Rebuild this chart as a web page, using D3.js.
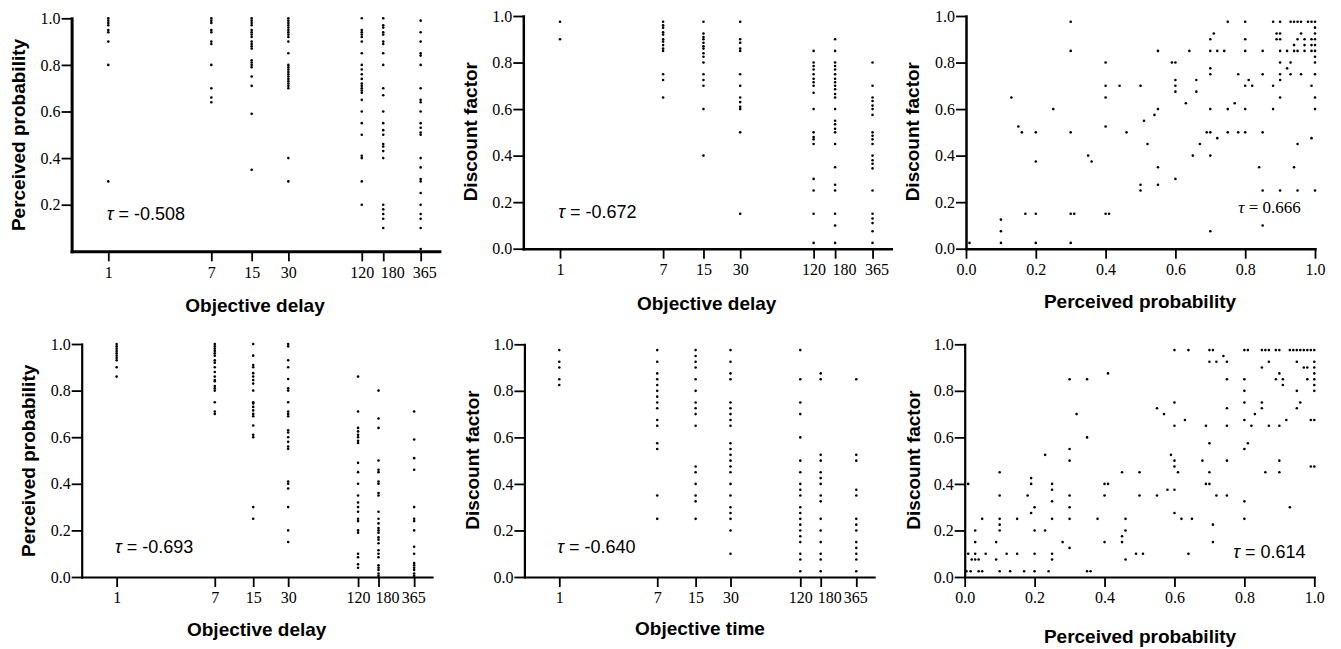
<!DOCTYPE html>
<html>
<head>
<meta charset="utf-8">
<script src="https://cdn.jsdelivr.net/npm/d3@7"></script>
<style>
  body { margin: 0; background: #fff; }
  svg { display: block; }
  .tk { font-family: "Liberation Serif", "Times New Roman", Times, serif; }
</style>
</head>
<body>
<div id="chart"></div>
<script>
// 6 panel figure: delay / probability / discount factor
var delays = [1, 7, 15, 30, 120, 180, 365];
var unitTicks = [0, 0.2, 0.4, 0.6, 0.8, 1.0];

// top-left: perceived probability per delay column
var p1Prob = [
  [1.0, 0.99, 0.98, 0.97, 0.95, 0.94, 0.9, 0.8, 0.3],
  [1.0, 0.99, 0.98, 0.95, 0.94, 0.9, 0.89, 0.8, 0.7, 0.66, 0.64],
  [1.0, 0.99, 0.98, 0.97, 0.95, 0.94, 0.93, 0.92, 0.9, 0.89, 0.88, 0.87, 0.82, 0.81, 0.8, 0.79, 0.75, 0.71, 0.59, 0.35],
  [1.0, 0.99, 0.98, 0.97, 0.96, 0.95, 0.94, 0.93, 0.92, 0.9, 0.85, 0.8, 0.79, 0.78, 0.77, 0.76, 0.75, 0.74, 0.73, 0.72, 0.71, 0.7, 0.4, 0.3],
  [1.0, 0.95, 0.94, 0.93, 0.92, 0.9, 0.85, 0.8, 0.78, 0.76, 0.74, 0.72, 0.71, 0.7, 0.69, 0.68, 0.65, 0.6, 0.55, 0.5, 0.41, 0.4, 0.3, 0.2],
  [1.0, 0.97, 0.96, 0.94, 0.93, 0.9, 0.89, 0.85, 0.8, 0.7, 0.67, 0.6, 0.55, 0.52, 0.5, 0.46, 0.45, 0.43, 0.4, 0.2, 0.18, 0.16, 0.14, 0.1],
  [0.99, 0.94, 0.9, 0.85, 0.84, 0.8, 0.7, 0.65, 0.64, 0.6, 0.55, 0.53, 0.51, 0.5, 0.4, 0.36, 0.31, 0.3, 0.25, 0.2, 0.16, 0.14, 0.1, 0.01]
];

// top-middle: discount factor per delay column
var p2Disc = [
  [0.975, 0.9],
  [0.975, 0.96, 0.95, 0.93, 0.92, 0.9, 0.89, 0.875, 0.86, 0.85, 0.75, 0.725, 0.65],
  [0.975, 0.925, 0.91, 0.9, 0.885, 0.87, 0.86, 0.84, 0.825, 0.8, 0.75, 0.725, 0.7, 0.6, 0.4],
  [0.975, 0.9, 0.885, 0.86, 0.85, 0.75, 0.7, 0.65, 0.63, 0.61, 0.6, 0.5, 0.15],
  [0.85, 0.8, 0.785, 0.77, 0.75, 0.73, 0.715, 0.7, 0.67, 0.6, 0.5, 0.48, 0.47, 0.45, 0.3, 0.25, 0.15, 0.025],
  [0.9, 0.85, 0.8, 0.785, 0.77, 0.75, 0.73, 0.715, 0.7, 0.685, 0.665, 0.65, 0.6, 0.55, 0.535, 0.515, 0.5, 0.45, 0.35, 0.275, 0.25, 0.15, 0.1, 0.025],
  [0.8, 0.7, 0.65, 0.635, 0.615, 0.6, 0.575, 0.5, 0.485, 0.47, 0.45, 0.4, 0.38, 0.365, 0.345, 0.25, 0.15, 0.13, 0.11, 0.075, 0.025]
];

// top-right: [perceived probability, discount factor]
var p3Pairs = [
  [0.01, 0.025], [0.1, 0.025], [0.1, 0.075], [0.1, 0.125], [0.13, 0.65], [0.15, 0.525], [0.16, 0.5],
  [0.17, 0.15], [0.2, 0.5], [0.2, 0.375], [0.2, 0.15], [0.2, 0.025], [0.25, 0.6], [0.3, 0.975],
  [0.3, 0.85], [0.3, 0.5], [0.3, 0.15], [0.31, 0.15], [0.3, 0.025], [0.35, 0.4], [0.36, 0.375],
  [0.4, 0.8], [0.4, 0.7], [0.4, 0.65], [0.4, 0.525], [0.4, 0.15], [0.41, 0.15], [0.44, 0.7],
  [0.46, 0.5], [0.5, 0.7], [0.5, 0.275], [0.5, 0.25], [0.51, 0.55], [0.52, 0.45], [0.54, 0.575],
  [0.55, 0.6], [0.55, 0.85], [0.55, 0.35], [0.55, 0.275], [0.59, 0.8], [0.6, 0.8], [0.6, 0.725],
  [0.6, 0.7], [0.6, 0.675], [0.6, 0.3], [0.63, 0.625], [0.64, 0.85], [0.65, 0.4], [0.66, 0.725],
  [0.66, 0.675], [0.67, 0.45], [0.69, 0.5], [0.7, 0.5], [0.7, 0.9], [0.7, 0.85], [0.7, 0.775],
  [0.7, 0.75], [0.7, 0.6], [0.7, 0.4], [0.7, 0.075], [0.71, 0.925], [0.72, 0.85], [0.72, 0.475],
  [0.74, 0.85], [0.75, 0.975], [0.75, 0.6], [0.75, 0.5], [0.77, 0.625], [0.78, 0.75], [0.78, 0.5],
  [0.8, 0.975], [0.8, 0.9], [0.8, 0.85], [0.8, 0.7], [0.8, 0.6], [0.8, 0.5], [0.81, 0.725],
  [0.82, 0.7], [0.84, 0.35], [0.85, 0.85], [0.85, 0.75], [0.85, 0.5], [0.85, 0.25], [0.85, 0.1],
  [0.88, 0.975], [0.9, 0.975], [0.88, 0.7], [0.88, 0.6], [0.89, 0.925], [0.9, 0.925], [0.89, 0.9],
  [0.9, 0.9], [0.9, 0.85], [0.9, 0.8], [0.9, 0.75], [0.9, 0.725], [0.9, 0.65], [0.9, 0.25],
  [0.92, 0.85], [0.92, 0.775], [0.93, 0.8], [0.93, 0.75], [0.94, 0.875], [0.94, 0.85], [0.94, 0.35],
  [0.93, 0.975], [0.94, 0.975], [0.95, 0.975], [0.96, 0.975], [0.95, 0.9], [0.95, 0.85], [0.95, 0.45],
  [0.95, 0.25], [0.96, 0.925], [0.96, 0.75], [0.97, 0.9], [0.97, 0.875], [0.97, 0.85], [0.98, 0.975],
  [0.99, 0.975], [1.0, 0.975], [0.99, 0.9], [1.0, 0.9], [0.99, 0.875], [1.0, 0.875], [0.99, 0.85],
  [1.0, 0.85], [1.0, 0.95], [1.0, 0.925], [1.0, 0.825], [1.0, 0.8], [0.99, 0.7], [1.0, 0.75],
  [1.0, 0.65], [1.0, 0.6], [0.99, 0.475], [1.0, 0.25]
];

// bottom-left: perceived probability per delay column
var p4Prob = [
  [1.0, 0.99, 0.98, 0.97, 0.96, 0.95, 0.94, 0.93, 0.9, 0.86],
  [1.0, 0.99, 0.98, 0.97, 0.96, 0.95, 0.93, 0.92, 0.9, 0.88, 0.86, 0.845, 0.84, 0.82, 0.81, 0.8, 0.75, 0.71, 0.7],
  [1.0, 0.95, 0.91, 0.9, 0.875, 0.86, 0.845, 0.83, 0.8, 0.75, 0.745, 0.73, 0.715, 0.7, 0.69, 0.65, 0.61, 0.6, 0.3, 0.25],
  [1.0, 0.99, 0.93, 0.9, 0.85, 0.81, 0.8, 0.75, 0.71, 0.7, 0.69, 0.63, 0.62, 0.6, 0.58, 0.56, 0.55, 0.41, 0.4, 0.38, 0.3, 0.2, 0.15],
  [0.86, 0.71, 0.64, 0.625, 0.61, 0.6, 0.585, 0.575, 0.49, 0.45, 0.4, 0.35, 0.32, 0.3, 0.28, 0.25, 0.24, 0.2, 0.19, 0.1, 0.085, 0.055, 0.04],
  [0.8, 0.68, 0.64, 0.5, 0.46, 0.45, 0.41, 0.4, 0.36, 0.35, 0.28, 0.25, 0.23, 0.21, 0.2, 0.19, 0.17, 0.16, 0.145, 0.115, 0.1, 0.085, 0.05, 0.04, 0.03, 0.015, 0.005],
  [0.71, 0.59, 0.51, 0.46, 0.3, 0.25, 0.24, 0.2, 0.13, 0.1, 0.06, 0.05, 0.04, 0.03, 0.015, 0.005]
];

// bottom-middle: discount factor per time column
var p5Disc = [
  [0.975, 0.925, 0.9, 0.85, 0.825],
  [0.975, 0.925, 0.875, 0.85, 0.825, 0.8, 0.775, 0.75, 0.725, 0.675, 0.65, 0.575, 0.55, 0.35, 0.25],
  [0.975, 0.95, 0.925, 0.9, 0.85, 0.8, 0.75, 0.725, 0.7, 0.65, 0.475, 0.45, 0.4, 0.35, 0.325, 0.25],
  [0.975, 0.925, 0.875, 0.85, 0.75, 0.725, 0.7, 0.675, 0.65, 0.575, 0.55, 0.525, 0.5, 0.475, 0.45, 0.4, 0.35, 0.3, 0.275, 0.25, 0.2, 0.1],
  [0.975, 0.85, 0.75, 0.7, 0.6, 0.5, 0.45, 0.4, 0.375, 0.35, 0.3, 0.275, 0.25, 0.225, 0.2, 0.175, 0.15, 0.1, 0.075, 0.025],
  [0.875, 0.85, 0.525, 0.5, 0.45, 0.425, 0.4, 0.35, 0.325, 0.25, 0.2, 0.15, 0.1, 0.075, 0.025],
  [0.85, 0.525, 0.5, 0.375, 0.35, 0.25, 0.225, 0.2, 0.15, 0.125, 0.1, 0.075, 0.025]
];

// bottom-right: [perceived probability, discount factor]
var p6Pairs = [
  [0.005, 0.025], [0.017, 0.025], [0.01, 0.4], [0.01, 0.1], [0.02, 0.075], [0.03, 0.075], [0.04, 0.075],
  [0.03, 0.2], [0.03, 0.15], [0.03, 0.1], [0.04, 0.025], [0.05, 0.025], [0.05, 0.25], [0.06, 0.1],
  [0.09, 0.15], [0.09, 0.075], [0.1, 0.45], [0.1, 0.35], [0.1, 0.25], [0.1, 0.225], [0.1, 0.2],
  [0.1, 0.025], [0.12, 0.1], [0.13, 0.025], [0.15, 0.25], [0.15, 0.1], [0.17, 0.025], [0.18, 0.35],
  [0.19, 0.425], [0.19, 0.4], [0.19, 0.275], [0.2, 0.3], [0.2, 0.2], [0.2, 0.1], [0.2, 0.025],
  [0.23, 0.525], [0.23, 0.2], [0.24, 0.025], [0.25, 0.4], [0.25, 0.375], [0.25, 0.325], [0.25, 0.25],
  [0.25, 0.1], [0.25, 0.075], [0.28, 0.15], [0.3, 0.85], [0.3, 0.55], [0.3, 0.5], [0.3, 0.35],
  [0.3, 0.3], [0.3, 0.25], [0.3, 0.125], [0.32, 0.7], [0.35, 0.85], [0.35, 0.6], [0.35, 0.025],
  [0.36, 0.025], [0.38, 0.25], [0.4, 0.4], [0.41, 0.4], [0.4, 0.35], [0.4, 0.15], [0.41, 0.875],
  [0.45, 0.45], [0.45, 0.175], [0.45, 0.15], [0.46, 0.25], [0.46, 0.2], [0.46, 0.075], [0.49, 0.1],
  [0.51, 0.1], [0.5, 0.45], [0.5, 0.35], [0.55, 0.725], [0.55, 0.35], [0.57, 0.7], [0.58, 0.375],
  [0.59, 0.525], [0.6, 0.975], [0.6, 0.75], [0.6, 0.65], [0.6, 0.5], [0.6, 0.475], [0.6, 0.375],
  [0.6, 0.275], [0.61, 0.45], [0.62, 0.25], [0.63, 0.675], [0.64, 0.975], [0.64, 0.1], [0.65, 0.25],
  [0.68, 0.5], [0.69, 0.65], [0.69, 0.4], [0.7, 0.4], [0.7, 0.975], [0.71, 0.975], [0.7, 0.925],
  [0.7, 0.575], [0.7, 0.45], [0.71, 0.225], [0.71, 0.15], [0.72, 0.925], [0.72, 0.35], [0.74, 0.95],
  [0.75, 0.925], [0.75, 0.85], [0.75, 0.725], [0.75, 0.65], [0.75, 0.5], [0.75, 0.35], [0.8, 0.975],
  [0.81, 0.975], [0.8, 0.85], [0.8, 0.8], [0.8, 0.75], [0.8, 0.675], [0.8, 0.55], [0.8, 0.325],
  [0.8, 0.25], [0.81, 0.575], [0.82, 0.65], [0.83, 0.7], [0.85, 0.975], [0.86, 0.975], [0.87, 0.975],
  [0.85, 0.9], [0.85, 0.75], [0.85, 0.725], [0.86, 0.45], [0.87, 0.925], [0.87, 0.65], [0.89, 0.975],
  [0.9, 0.975], [0.89, 0.85], [0.9, 0.875], [0.9, 0.65], [0.9, 0.5], [0.9, 0.45], [0.91, 0.85],
  [0.91, 0.825], [0.92, 0.675], [0.93, 0.3], [0.93, 0.975], [0.94, 0.975], [0.95, 0.975], [0.96, 0.975],
  [0.97, 0.975], [0.98, 0.975], [0.99, 0.975], [1.0, 0.975], [0.95, 0.925], [0.95, 0.8], [0.95, 0.725],
  [0.96, 0.75], [0.97, 0.9], [0.98, 0.9], [0.98, 0.85], [1.0, 0.925], [1.0, 0.9], [1.0, 0.875],
  [1.0, 0.85], [1.0, 0.825], [1.0, 0.8], [0.99, 0.675], [1.0, 0.675], [0.99, 0.475], [1.0, 0.475]
];

var tauText = ["-0.508", "-0.672", "0.666", "-0.693", "-0.640", "0.614"];
var xTitles = ["Objective delay", "Objective delay", "Perceived probability",
               "Objective delay", "Objective time", "Perceived probability"];
var yTitles = ["Perceived probability", "Discount factor", "Discount factor",
               "Perceived probability", "Discount factor", "Discount factor"];

var width = 1341, height = 649;
var serif = "Liberation Serif, Times New Roman, Times, serif";
var sans = "Liberation Sans, Arial, Helvetica, sans-serif";

// layout of each panel (pixel frame, label spots)
var panels = [
  { kind: "delay", cols: p1Prob, x: [71.6, 439.4], y: [251.3, 18.3], yTicks: unitTicks.slice(1), sw: 3,
    shift: { 180: 9, 365: 3.5 }, xt: [255, 312], yt: [25, 135], tau: [106.7, 220], tauSerif: false },
  { kind: "delay", cols: p2Disc, x: [523.3, 891.3], y: [248.7, 16], yTicks: unitTicks, sw: 2.5,
    shift: { 180: 9, 365: 4 }, xt: [706.7, 310], yt: [476.6, 131.7], tau: [558.3, 218.3], tauSerif: false },
  { kind: "prob", pts: p3Pairs, x: [966, 1315], y: [248.7, 16], yTicks: unitTicks, sw: 2.5,
    xt: [1140, 307.5], yt: [918.6, 131.7], tau: [1238.3, 213.3], tauSerif: true },
  { kind: "delay", cols: p4Prob, x: [81.7, 432], y: [577, 344], yTicks: unitTicks, sw: 2.2,
    shift: { 180: 8.5, 365: -1 }, xt: [256.7, 636], yt: [35.3, 460.8], tau: [115, 552.7], tauSerif: false },
  { kind: "delay", cols: p5Disc, x: [524.4, 874.1], y: [577, 344.3], yTicks: unitTicks, sw: 2.2,
    shift: { 180: 8.5, 365: -1 }, xt: [700, 635], yt: [478.6, 460], tau: [557.3, 552.7], tauSerif: false },
  { kind: "prob", pts: p6Pairs, x: [964.7, 1314.3], y: [577, 344.3], yTicks: unitTicks, sw: 2.2,
    xt: [1140, 642.5], yt: [919.6, 460], tau: [1233.3, 558.3], tauSerif: false }
];

var svg = d3.select("#chart")
  .append("svg")
  .attr("width", width)
  .attr("height", height);

svg.append("rect").attr("width", width).attr("height", height).attr("fill", "#fff");

panels.forEach(function (p, i) {
  var g = svg.append("g");

  var x = p.kind == "delay"
    ? d3.scaleLog().domain([0.5, 520]).range(p.x)
    : d3.scaleLinear().domain([0, 1]).range(p.x);
  var y = d3.scaleLinear().domain([0, 1]).range(p.y);

  // points
  var pts = [];
  if (p.kind == "delay") {
    p.cols.forEach(function (col, c) {
      col.forEach(function (v) { pts.push([delays[c], v]); });
    });
  } else {
    pts = p.pts;
  }
  g.selectAll("circle")
    .data(pts)
    .enter()
    .append("circle")
    .attr("cx", function (d) { return x(d[0]); })
    .attr("cy", function (d) { return y(d[1]); })
    .attr("r", 1.3)
    .attr("fill", "#000");

  // x axis
  var xAxis = d3.axisBottom(x).tickSize(10).tickPadding(5).tickSizeOuter(0);
  if (p.kind == "delay") {
    xAxis.tickValues(delays).tickFormat(function (d) { return String(d); });
  } else {
    xAxis.tickValues(unitTicks).tickFormat(d3.format(".1f"));
  }
  var gx = g.append("g")
    .attr("transform", "translate(0," + p.y[0] + ")")
    .call(xAxis);

  // y axis
  var yAxis = d3.axisLeft(y).tickSize(10).tickPadding(1).tickSizeOuter(0)
    .tickValues(p.yTicks).tickFormat(d3.format(".1f"));
  var gy = g.append("g")
    .attr("transform", "translate(" + p.x[0] + ",0)")
    .call(yAxis);

  [gx, gy].forEach(function (ax) {
    ax.attr("font-family", serif).attr("font-size", 16);
    ax.select(".domain").attr("stroke", "#000").attr("stroke-width", p.sw).attr("stroke-linecap", "square");
    ax.selectAll(".tick line").attr("stroke", "#000").attr("stroke-width", 1.8);
    ax.selectAll(".tick text")
      .attr("class", "tk")
      .attr("fill", "#000");
  });

  if (p.shift) {
    gx.selectAll(".tick text").attr("dx", function (d) { return p.shift[d] || 0; });
  }

  // axis titles
  g.append("text")
    .attr("x", p.xt[0])
    .attr("y", p.xt[1])
    .attr("text-anchor", "middle")
    .attr("font-family", sans)
    .attr("font-weight", "bold")
    .attr("font-size", 19)
    .text(xTitles[i]);

  g.append("text")
    .attr("transform", "translate(" + p.yt[0] + "," + p.yt[1] + ")rotate(-90)")
    .attr("text-anchor", "middle")
    .attr("font-family", sans)
    .attr("font-weight", "bold")
    .attr("font-size", 19)
    .text(yTitles[i]);

  // kendall tau
  var t = g.append("text")
    .attr("x", p.tau[0])
    .attr("y", p.tau[1])
    .attr("class", p.tauSerif ? "tk" : null)
    .attr("font-family", p.tauSerif ? serif : sans)
    .attr("font-size", p.tauSerif ? 17 : 18);
  t.append("tspan").attr("font-style", "italic").text("τ");
  t.append("tspan").text(" = " + tauText[i]);
});
</script>
</body>
</html>
